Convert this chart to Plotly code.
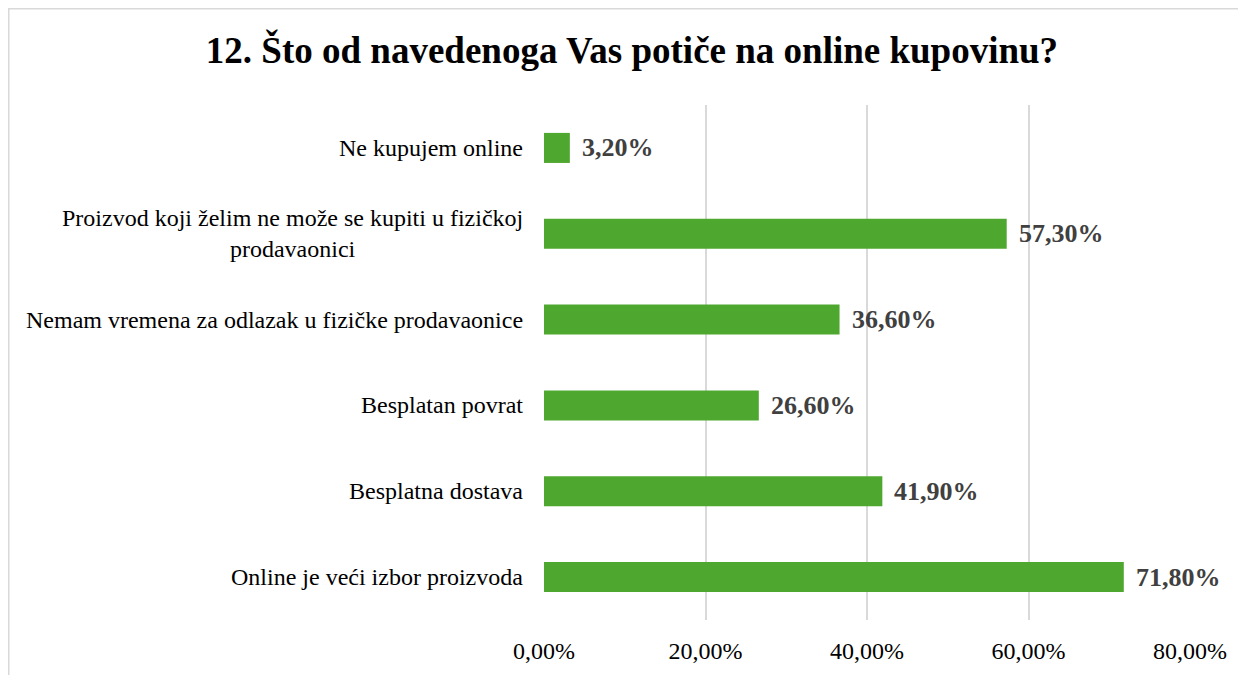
import plotly.graph_objects as go

categories = [
    "Online je veći izbor proizvoda",
    "Besplatna dostava",
    "Besplatan povrat",
    "Nemam vremena za odlazak u fizičke prodavaonice",
    "Proizvod koji želim ne može se kupiti u fizičkoj<br>prodavaonici",
    "Ne kupujem online",
]
values = [0.718, 0.419, 0.266, 0.366, 0.573, 0.032]
value_labels = ["71,80%", "41,90%", "26,60%", "36,60%", "57,30%", "3,20%"]
tick_vals = [0, 0.2, 0.4, 0.6, 0.8]
tick_text = ["0,00%", "20,00%", "40,00%", "60,00%", "80,00%"]
title_text = "12. Što od navedenoga Vas potiče na online kupovinu?"

FONT = "Liberation Serif, Times New Roman, serif"
GREEN = "#4EA72E"
GRID = "#D9D9D9"

# page body has an 8px margin, so the figure is drawn at (8, 8)
OFF = 8
W, H = 1246 - OFF, 675 - OFF
L, R, T, B = 544 - OFF, 56, 105 - OFF, 55

fig = go.Figure()
fig.add_trace(go.Bar(
    y=list(range(len(categories))),
    x=values,
    orientation="h",
    marker=dict(color=GREEN, line=dict(width=0)),
    width=0.35,
    hoverinfo="skip",
))

annotations = []
for i, (v, lab) in enumerate(zip(values, value_labels)):
    annotations.append(dict(
        x=v, y=i, xref="x", yref="y", text="<b>" + lab + "</b>",
        showarrow=False, xanchor="left", yanchor="middle", xshift=10,
        font=dict(family=FONT, size=26, color="#404040"),
    ))
for i, cat in enumerate(categories):
    annotations.append(dict(
        x=0, y=i, xref="paper", yref="y", text=cat,
        showarrow=False, xanchor="right", yanchor="middle", xshift=-19,
        align="center",
        font=dict(family=FONT, size=24, color="#000000"),
    ))

pw = W - L - R
ph = H - T - B
frame_x0 = (0.5 - L) / pw
frame_y1 = (H - B - 0.5) / ph

fig.update_layout(
    width=W, height=H,
    margin=dict(l=L, r=R, t=T, b=B),
    paper_bgcolor="white", plot_bgcolor="white",
    showlegend=False,
    title=dict(
        text="<b>" + title_text + "</b>",
        x=(632 - OFF) / W, xanchor="center",
        y=1 - (50 - OFF) / H, yanchor="middle", yref="container",
        font=dict(family=FONT, size=37, color="#000000"),
    ),
    xaxis=dict(
        range=[0, 0.8], tickvals=tick_vals, ticktext=tick_text,
        showgrid=True, gridcolor=GRID, gridwidth=1.5,
        zeroline=False, showline=False, ticks="",
        tickfont=dict(family=FONT, size=24, color="#000000"),
        ticklabelstandoff=14, fixedrange=True,
    ),
    yaxis=dict(
        range=[-0.5, len(categories) - 0.5],
        showticklabels=False, showgrid=False, zeroline=False,
        showline=False, ticks="", fixedrange=True,
    ),
    annotations=annotations,
    shapes=[dict(
        type="rect", xref="paper", yref="paper",
        x0=frame_x0, x1=1.3, y0=-0.3, y1=frame_y1,
        line=dict(color=GRID, width=2), fillcolor="rgba(0,0,0,0)",
        layer="below",
    )],
)

fig.write_html("out.html")
